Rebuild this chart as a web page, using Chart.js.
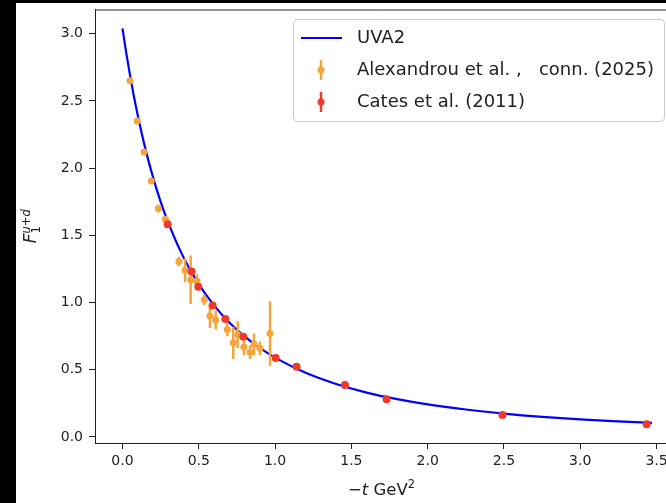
<!DOCTYPE html>
<html>
<head>
<meta charset="utf-8">
<script src="https://cdn.jsdelivr.net/npm/chart.js@4.4.1/dist/chart.umd.min.js"></script>
<style>
  html, body { margin: 0; padding: 0; background: #000; overflow: hidden; width: 666px; height: 503px; }
  #wrap { position: absolute; left: 16px; top: 3px; width: 680px; height: 500px; background: #fff; }
</style>
</head>
<body>
<div id="wrap"><canvas id="chart" width="680" height="500"></canvas></div>
<script>
// UVA2 curve
const curveT = [0, 0.025, 0.05, 0.075, 0.1, 0.15, 0.2, 0.25, 0.3, 0.4, 0.5, 0.6, 0.7, 0.8, 0.9, 1.0,
  1.2, 1.4, 1.6, 1.8, 2.0, 2.25, 2.5, 2.75, 3.0, 3.25, 3.47];
const curveF = [3.04, 2.856, 2.688, 2.534, 2.394, 2.145, 1.933, 1.751, 1.594, 1.336, 1.137, 0.979, 0.852, 0.748, 0.662, 0.59,
  0.477, 0.394, 0.33, 0.281, 0.242, 0.204, 0.174, 0.15, 0.131, 0.116, 0.104];

// Alexandrou et al., conn. (2025)
const alexT = [0.049, 0.097, 0.141, 0.189, 0.235, 0.281, 0.37, 0.41, 0.447, 0.488, 0.536, 0.573, 0.611,
  0.687, 0.726, 0.755, 0.796, 0.836, 0.862, 0.901, 0.967];
const alexF = [2.65, 2.35, 2.12, 1.905, 1.7, 1.62, 1.305, 1.24, 1.17, 1.16, 1.02, 0.9, 0.87,
  0.8, 0.7, 0.76, 0.67, 0.63, 0.69, 0.66, 0.77];
const alexErr = [0.01, 0.01, 0.01, 0.015, 0.03, 0.02, 0.035, 0.09, 0.18, 0.05, 0.04, 0.09, 0.07,
  0.05, 0.12, 0.1, 0.06, 0.05, 0.08, 0.05, 0.24];

// Cates et al. (2011)
const catesT = [0.296, 0.453, 0.497, 0.591, 0.674, 0.792, 1.004, 1.141, 1.458, 1.731, 2.49, 3.435];
const catesF = [1.583, 1.23, 1.118, 0.977, 0.878, 0.746, 0.588, 0.523, 0.387, 0.28, 0.164, 0.094];
const catesErr = [0.01, 0.01, 0.01, 0.01, 0.01, 0.01, 0.01, 0.01, 0.01, 0.005, 0.005, 0.005];

const xTicks = [0, 0.5, 1, 1.5, 2, 2.5, 3, 3.5];
const yTicks = [0, 0.5, 1, 1.5, 2, 2.5, 3];
const seriesNames = ["UVA2", "Alexandrou et al. ,   conn. (2025)", "Cates et al. (2011)"];

const blue = "#0000ff";
const orange = "#f5a53a";
const red = "#ee3a2b";
const ink = "#222222";
const fam = "'DejaVu Sans', sans-serif";

const toPoints = (xs, ys) => xs.map((x, i) => ({ x: x, y: ys[i] }));

// draw pieces of text one after another along a baseline
function drawPieces(ctx, pieces, x, y) {
  let total = 0;
  pieces.forEach((p) => {
    ctx.font = p.font;
    p.w = p.skip ? 0 : ctx.measureText(p.text).width;
    total += p.w;
  });
  let cx = x - total / 2;
  ctx.textBaseline = "alphabetic";
  ctx.textAlign = "left";
  pieces.forEach((p) => {
    ctx.font = p.font;
    ctx.fillText(p.text, cx, y + (p.dy || 0));
    cx += p.w;
  });
}

const errorBars = {
  id: "errorBars",
  beforeDatasetDraw(chart, args) {
    const ds = chart.data.datasets[args.index];
    if (!ds.errors) return;
    const ctx = chart.ctx;
    const xs = chart.scales.x;
    const ys = chart.scales.y;
    ctx.save();
    ctx.strokeStyle = ds.backgroundColor;
    ctx.lineWidth = 2.5;
    ctx.beginPath();
    ds.data.forEach((p, i) => {
      const px = xs.getPixelForValue(p.x);
      ctx.moveTo(px, ys.getPixelForValue(p.y - ds.errors[i]));
      ctx.lineTo(px, ys.getPixelForValue(p.y + ds.errors[i]));
    });
    ctx.stroke();
    ctx.restore();
  },
};

const decorations = {
  id: "decorations",
  afterDraw(chart) {
    const ctx = chart.ctx;
    const a = chart.chartArea;
    ctx.save();
    // top and right spines
    ctx.strokeStyle = ink;
    ctx.lineWidth = 1;
    ctx.beginPath();
    ctx.moveTo(a.left, a.top + 0.5);
    ctx.lineTo(a.right, a.top + 0.5);
    ctx.lineTo(a.right, a.bottom);
    ctx.stroke();

    // legend
    const bx = 277, by = 16, bh = 102;
    ctx.font = "18px " + fam;
    const textX = 341;
    const bw = textX - bx + ctx.measureText(seriesNames[1]).width + 10;
    ctx.fillStyle = "rgba(255,255,255,0.8)";
    ctx.strokeStyle = "#cccccc";
    ctx.beginPath();
    ctx.roundRect(bx + 0.5, by + 0.5, bw, bh, 4);
    ctx.fill();
    ctx.stroke();

    const rows = [35, 67, 99];
    ctx.strokeStyle = blue;
    ctx.lineWidth = 2;
    ctx.beginPath();
    ctx.moveTo(285, rows[0]);
    ctx.lineTo(326, rows[0]);
    ctx.stroke();
    [orange, red].forEach((c, i) => {
      const y = rows[i + 1];
      ctx.strokeStyle = c;
      ctx.fillStyle = c;
      ctx.lineWidth = 2.5;
      ctx.beginPath();
      ctx.moveTo(305, y - 10);
      ctx.lineTo(305, y + 10);
      ctx.stroke();
      ctx.beginPath();
      ctx.arc(305, y, 3.5, 0, Math.PI * 2);
      ctx.fill();
    });
    ctx.fillStyle = ink;
    ctx.font = "18px " + fam;
    ctx.textBaseline = "middle";
    seriesNames.forEach((n, i) => ctx.fillText(n, textX, rows[i]));

    // x axis title
    ctx.fillStyle = ink;
    drawPieces(ctx, [
      { text: "\u2212", font: "16.5px " + fam },
      { text: "t", font: "italic 16.5px " + fam },
      { text: " GeV", font: "16.5px " + fam },
      { text: "2", font: "11.5px " + fam, dy: -7 },
    ], (a.left + a.right) / 2, 492);

    // y axis title
    ctx.translate(19.5, (a.top + a.bottom) / 2);
    ctx.rotate(-Math.PI / 2);
    drawPieces(ctx, [
      { text: "F", font: "italic 17px " + fam },
      { text: "1", font: "11.5px " + fam, dy: 4.5, skip: true },
      { text: "u+d", font: "italic 11.5px " + fam, dy: -6 },
    ], 0, 0);
    ctx.restore();
  },
};

new Chart(document.getElementById("chart"), {
  type: "scatter",
  data: {
    datasets: [
      {
        label: seriesNames[2],
        data: toPoints(catesT, catesF),
        errors: catesErr,
        backgroundColor: red,
        borderColor: red,
        pointRadius: 4,
        pointBorderWidth: 0,
        order: 0,
      },
      {
        label: seriesNames[1],
        data: toPoints(alexT, alexF),
        errors: alexErr,
        backgroundColor: orange,
        borderColor: orange,
        pointRadius: 3.5,
        pointBorderWidth: 0,
        order: 1,
      },
      {
        type: "line",
        label: seriesNames[0],
        data: toPoints(curveT, curveF),
        borderColor: blue,
        borderWidth: 2.2,
        pointRadius: 0,
        cubicInterpolationMode: "monotone",
        fill: false,
        order: 2,
      },
    ],
  },
  options: {
    responsive: false,
    animation: false,
    devicePixelRatio: 1,
    layout: { padding: { top: 6.5, right: 28, bottom: 0, left: 0 } },
    plugins: {
      legend: { display: false },
      tooltip: { enabled: false },
    },
    scales: {
      x: {
        type: "linear",
        min: -0.18,
        max: 3.575,
        afterBuildTicks: (s) => { s.ticks = xTicks.map((v) => ({ value: v })); },
        afterFit: (s) => { s.height = 60; s.paddingLeft = 0; s.paddingRight = 0; },
        ticks: {
          font: { family: fam, size: 14 },
          color: ink,
          padding: 4,
          maxRotation: 0,
          autoSkip: false,
          callback: (v) => v.toFixed(1),
        },
        grid: { drawOnChartArea: false, tickLength: 6, tickColor: ink, tickWidth: 1 },
        border: { color: ink, width: 1 },
      },
      y: {
        type: "linear",
        min: -0.045,
        max: 3.18,
        afterBuildTicks: (s) => { s.ticks = yTicks.map((v) => ({ value: v })); },
        afterFit: (s) => { s.width = 79; s.paddingTop = 0; s.paddingBottom = 0; },
        ticks: {
          font: { family: fam, size: 14 },
          color: ink,
          padding: 6,
          autoSkip: false,
          callback: (v) => v.toFixed(1),
        },
        grid: { drawOnChartArea: false, tickLength: 6, tickColor: ink, tickWidth: 1 },
        border: { color: ink, width: 1 },
      },
    },
  },
  plugins: [errorBars, decorations],
});
</script>
</body>
</html>
